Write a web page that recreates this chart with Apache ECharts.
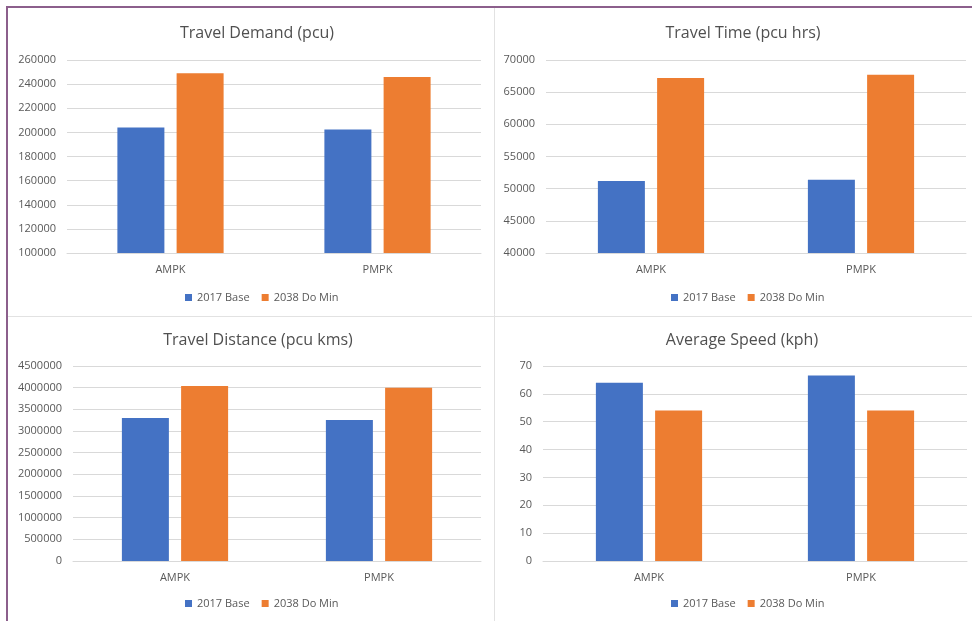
<!DOCTYPE html>
<html>
<head>
<meta charset="utf-8">
<script src="https://cdn.jsdelivr.net/npm/echarts@6/dist/echarts.min.js"></script>
<style>
  html, body { margin: 0; padding: 0; background: #fff; }
  #chart { width: 972px; height: 621px; }
</style>
</head>
<body>
<div id="chart"></div>
<script>
  // data
  var periods = ["AMPK", "PMPK"];
  var seriesNames = ["2017 Base", "2038 Do Min"];
  var panelTitles = ["Travel Demand (pcu)", "Travel Time (pcu hrs)", "Travel Distance (pcu kms)", "Average Speed (kph)"];

  var demandBase = [204000, 202300];
  var demandDoMin = [249000, 246000];
  var timeBase = [51200, 51400];
  var timeDoMin = [67200, 67700];
  var distanceBase = [3300000, 3255000];
  var distanceDoMin = [4040000, 4000000];
  var speedBase = [64, 66.6];
  var speedDoMin = [54, 54];

  // y axis ranges: [min, max, interval]
  var demandAxis = [100000, 260000, 20000];
  var timeAxis = [40000, 70000, 5000];
  var distanceAxis = [0, 4500000, 500000];
  var speedAxis = [0, 70, 10];

  var colors = ["#4472C4", "#ED7D31"];
  var textGrey = "#595959";
  var font = "'Open Sans', sans-serif";

  var grids = [
    { left: 67, right: 491, top: 60, height: 193 },
    { left: 546, right: 6, top: 60, height: 193 },
    { left: 73, right: 491, top: 366, height: 195 },
    { left: 543, right: 5, top: 366, height: 195 }
  ];
  var titlePos = [[252, 20], [738, 20], [253, 327], [737, 327]];
  var legendPos = [[180, 287], [666, 287], [180, 593], [666, 593]];
  var axes = [demandAxis, timeAxis, distanceAxis, speedAxis];
  var values = [
    [demandBase, demandDoMin],
    [timeBase, timeDoMin],
    [distanceBase, distanceDoMin],
    [speedBase, speedDoMin]
  ];

  var option = {
    animation: false,
    color: colors,
    textStyle: { fontFamily: font },
    title: [],
    legend: [],
    grid: [],
    xAxis: [],
    yAxis: [],
    series: [],
    graphic: [
      // purple frame of the screenshot
      { type: "line", shape: { x1: 7, y1: 6, x2: 7, y2: 621 }, style: { stroke: "#8c5f8c", lineWidth: 2 } },
      { type: "line", shape: { x1: 6, y1: 7, x2: 972, y2: 7 }, style: { stroke: "#8c5f8c", lineWidth: 2 } },
      // light grey panel separators
      { type: "line", shape: { x1: 494.5, y1: 8, x2: 494.5, y2: 621 }, style: { stroke: "#e2e2e2", lineWidth: 1 } },
      { type: "line", shape: { x1: 8, y1: 316.5, x2: 972, y2: 316.5 }, style: { stroke: "#e2e2e2", lineWidth: 1 } }
    ]
  };

  for (var i = 0; i < 4; i++) {
    option.title.push({
      text: panelTitles[i],
      left: titlePos[i][0],
      top: titlePos[i][1],
      textAlign: "center",
      textStyle: { fontFamily: font, fontSize: 16, fontWeight: "normal", color: "#505050" }
    });
    option.legend.push({
      data: seriesNames,
      left: legendPos[i][0],
      top: legendPos[i][1],
      icon: "rect",
      itemWidth: 7,
      itemHeight: 7,
      itemGap: 12,
      textStyle: { fontFamily: font, fontSize: 11, color: textGrey }
    });
    option.grid.push(grids[i]);
    option.xAxis.push({
      type: "category",
      gridIndex: i,
      data: periods,
      axisLine: { lineStyle: { color: "#d9d9d9" } },
      axisTick: { show: false },
      axisLabel: { color: textGrey, fontSize: 11, margin: 11, fontFamily: font }
    });
    option.yAxis.push({
      type: "value",
      gridIndex: i,
      min: axes[i][0],
      max: axes[i][1],
      interval: axes[i][2],
      axisLine: { show: false },
      axisTick: { show: false },
      axisLabel: {
        color: textGrey, fontSize: 11, margin: 11, fontFamily: font,
        formatter: function (v) { return String(v); }
      },
      splitLine: { lineStyle: { color: "#d9d9d9" } }
    });
    for (var s = 0; s < 2; s++) {
      option.series.push({
        name: seriesNames[s],
        type: "bar",
        xAxisIndex: i,
        yAxisIndex: i,
        data: values[i][s],
        barWidth: 47,
        barGap: "26%",
        itemStyle: { color: colors[s] }
      });
    }
  }

  var myChart = echarts.init(document.getElementById("chart"));
  myChart.setOption(option);
</script>
</body>
</html>
